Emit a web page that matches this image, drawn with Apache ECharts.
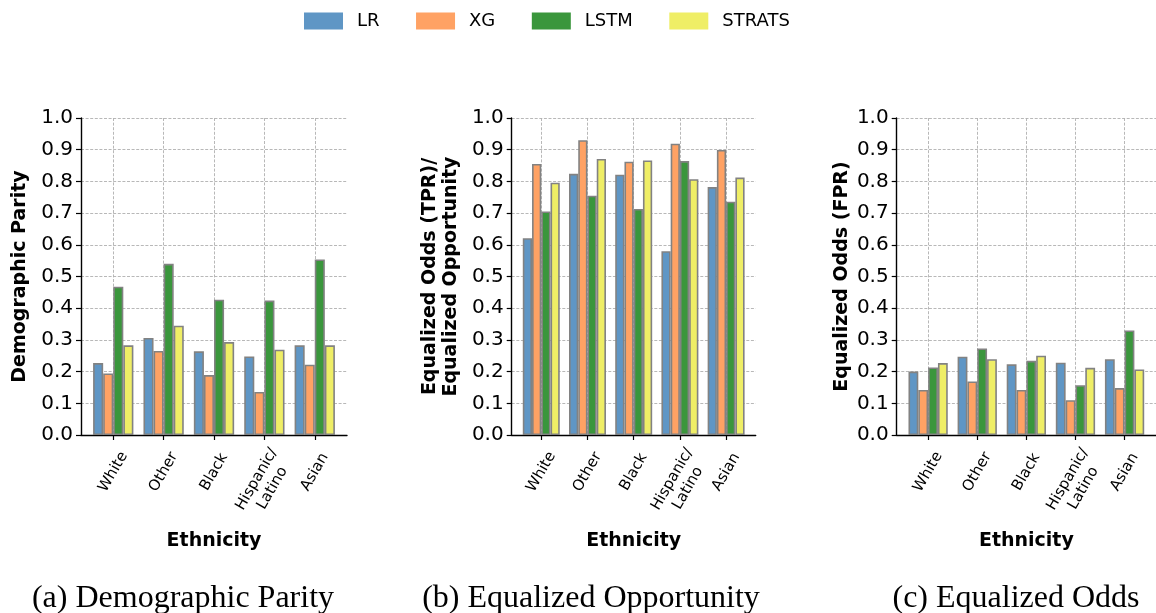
<!DOCTYPE html>
<html>
<head>
<meta charset="utf-8">
<script src="https://cdn.jsdelivr.net/npm/echarts@6/dist/echarts.min.js"></script>
<style>
  html, body { margin: 0; padding: 0; background: #fff; }
  #chart { width: 1156px; height: 613px; }
</style>
</head>
<body>
<div id="chart"></div>
<script>
// Ethnic groups on the x axis (one slot per group)
const categories = ['White', 'Other', 'Black', 'Hispanic/\nLatino', 'Asian'];
const models = ['LR', 'XG', 'LSTM', 'STRATS'];
const modelColors = ['#5f96c5', '#ffa264', '#3a963c', '#efee66'];

// (a) Demographic parity
const dpLR     = [0.227, 0.306, 0.264, 0.248, 0.283];
const dpXG     = [0.194, 0.265, 0.189, 0.136, 0.222];
const dpLSTM   = [0.468, 0.540, 0.427, 0.424, 0.554];
const dpSTRATS = [0.283, 0.345, 0.293, 0.269, 0.283];

// (b) Equalized opportunity (TPR)
const eoLR     = [0.621, 0.824, 0.821, 0.580, 0.782];
const eoXG     = [0.855, 0.930, 0.862, 0.919, 0.899];
const eoLSTM   = [0.705, 0.755, 0.713, 0.864, 0.736];
const eoSTRATS = [0.796, 0.871, 0.866, 0.807, 0.812];

// (c) Equalized odds (FPR)
const fprLR     = [0.200, 0.247, 0.223, 0.228, 0.239];
const fprXG     = [0.142, 0.169, 0.142, 0.110, 0.148];
const fprLSTM   = [0.213, 0.273, 0.234, 0.157, 0.330];
const fprSTRATS = [0.227, 0.239, 0.250, 0.212, 0.207];

const yAxisTitles = ['Demographic Parity', 'Equalized Odds (TPR)/\nEqualized Opportunity', 'Equalized Odds (FPR)'];
const xAxisTitle = 'Ethnicity';
const captions = ['(a) Demographic Parity', '(b) Equalized Opportunity', '(c) Equalized Odds'];

const panels = [
  [dpLR, dpXG, dpLSTM, dpSTRATS],
  [eoLR, eoXG, eoLSTM, eoSTRATS],
  [fprLR, fprXG, fprLSTM, fprSTRATS]
];

// panel geometry
const gridLefts = [81, 511.7, 896.7];
const gridWidths = [266, 244, 266];
const yNameGaps = [50, 50, 44];
const captionCenters = [178, 586, 1011];

const SANS = 'DejaVu Sans';
const slotIdx = categories.map((c, i) => i);

// two-line group names get spacer tokens so the rotated block sits lower
function catLabel(v) {
  const name = categories[Math.round(v)];
  if (name.indexOf('\n') >= 0) {
    const lines = name.split('\n');
    return '{p| }\n' + lines.map(l => '{h|' + l + '}{w| }').join('\n');
  }
  return name;
}

const grids = [], xAxes = [], yAxes = [], series = [];
panels.forEach((vals, p) => {
  grids.push({ left: gridLefts[p], width: gridWidths[p], top: 118, height: 317, containLabel: false });
  xAxes.push({
    type: 'value', gridIndex: p, min: -0.64, max: 4.64,
    name: xAxisTitle, nameLocation: 'middle', nameGap: 97,
    nameTextStyle: { fontFamily: SANS, fontSize: 19, fontWeight: 'bold', color: '#000' },
    axisLine: { show: true, onZero: false, lineStyle: { color: '#000', width: 1.4 } },
    axisTick: { show: true, length: 5, inside: false, customValues: slotIdx, lineStyle: { color: '#000', width: 1.2 } },
    axisLabel: {
      customValues: slotIdx, rotate: 60, align: 'center', verticalAlign: 'middle', margin: 37,
      hideOverlap: false, showMinLabel: true, showMaxLabel: true,
      fontFamily: SANS, fontSize: 15, color: '#000', lineHeight: 18,
      formatter: catLabel,
      rich: {
        h: { fontFamily: SANS, fontSize: 15, color: '#000', lineHeight: 18 },
        p: { height: 12, lineHeight: 12, fontSize: 1 },
        w: { width: 20, fontSize: 1 }
      }
    },
    splitLine: { show: true, lineStyle: { color: '#b0b0b0', width: 0.9, type: [3, 1.6] } }
  });
  yAxes.push({
    type: 'value', gridIndex: p, min: 0, max: 1, interval: 0.1,
    name: yAxisTitles[p], nameLocation: 'middle', nameGap: yNameGaps[p],
    nameTextStyle: { fontFamily: SANS, fontSize: 19, fontWeight: 'bold', color: '#000', lineHeight: 21 },
    axisLine: { show: true, onZero: false, lineStyle: { color: '#000', width: 1.4 } },
    axisTick: { show: true, length: 5, inside: false, lineStyle: { color: '#000', width: 1.2 } },
    axisLabel: { fontFamily: SANS, fontSize: 20, color: '#000', margin: 8, formatter: v => v.toFixed(1) },
    splitLine: { show: true, lineStyle: { color: '#b0b0b0', width: 0.9, type: [3, 1.6] } }
  });
  vals.forEach((arr, m) => {
    series.push({
      type: 'bar', name: models[m], xAxisIndex: p, yAxisIndex: p,
      barGap: '0%', barCategoryGap: '20%',
      data: arr.map((v, i) => [i, v]),
      itemStyle: { color: modelColors[m], borderColor: '#828282', borderWidth: 1.6 },
      emphasis: { disabled: true }
    });
  });
});

const titles = captions.map((c, i) => ({
  text: c, left: captionCenters[i], textAlign: 'center', top: 578,
  textStyle: { fontFamily: 'Liberation Serif', fontSize: 32, fontWeight: 'normal', color: '#000' }
}));

const chart = echarts.init(document.getElementById('chart'), null, { renderer: 'canvas' });
chart.setOption({
  animation: false,
  backgroundColor: '#fff',
  title: titles,
  legend: {
    data: models, left: 304, top: 12, padding: 0, itemWidth: 39, itemHeight: 17, itemGap: 36.5,
    icon: 'rect',
    itemStyle: { borderWidth: 0 },
    textStyle: { fontFamily: SANS, fontSize: 18, color: '#000', padding: [0, 0, 0, 9] }
  },
  grid: grids,
  xAxis: xAxes,
  yAxis: yAxes,
  series: series
});
</script>
</body>
</html>
